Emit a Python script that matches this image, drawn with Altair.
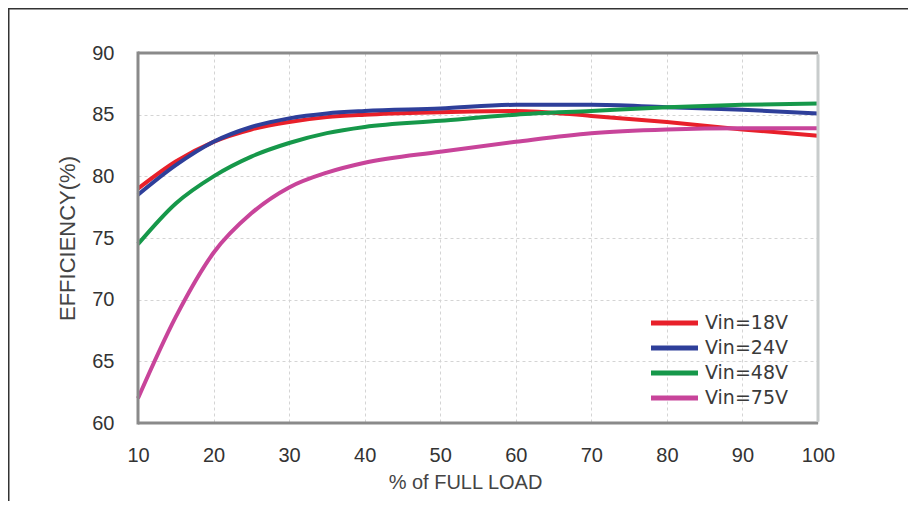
import altair as alt
import pandas as pd

load = [10, 15, 20, 25, 30, 35, 40, 50, 60, 70, 80, 90, 100]
series_names = ["Vin=18V", "Vin=24V", "Vin=48V", "Vin=75V"]
colors = ["#e8202a", "#2e3f9a", "#16984a", "#c8449a"]
eff_18 = [79.0, 81.2, 82.8, 83.8, 84.4, 84.8, 85.0, 85.2, 85.3, 84.9, 84.4, 83.8, 83.3]
eff_24 = [78.5, 80.9, 82.8, 84.0, 84.7, 85.1, 85.3, 85.5, 85.8, 85.8, 85.6, 85.4, 85.1]
eff_48 = [74.5, 77.8, 80.0, 81.6, 82.7, 83.5, 84.0, 84.5, 85.0, 85.3, 85.6, 85.8, 85.9]
eff_75 = [62.0, 68.6, 73.8, 77.0, 79.1, 80.3, 81.1, 82.0, 82.8, 83.5, 83.8, 83.9, 83.9]
x_ticks = [10, 20, 30, 40, 50, 60, 70, 80, 90, 100]
y_ticks = [60, 65, 70, 75, 80, 85, 90]

rows = []
for name, vals in zip(series_names, [eff_18, eff_24, eff_48, eff_75]):
    for x, v in zip(load, vals):
        rows.append({"load": x, "eff": v, "series": name})
df = pd.DataFrame(rows)
order_map = {"Vin=75V": 0, "Vin=48V": 1, "Vin=18V": 2, "Vin=24V": 3}
df["z"] = df["series"].map(order_map)

W, H = 680, 370
PL, PT = 130, 45
FONT = "Liberation Sans"

color_scale = alt.Scale(domain=series_names, range=colors)

lines = alt.Chart(df).mark_line(strokeWidth=4, interpolate="monotone").encode(
    x=alt.X("load:Q", scale=alt.Scale(domain=[10, 100], nice=False),
            axis=alt.Axis(values=x_ticks, title="% of FULL LOAD", grid=True,
                          gridDash=[3, 3], gridColor="#d4d4d4", domain=False,
                          ticks=False, labelPadding=22, labelFontSize=20,
                          labelFlush=False,
                          labelColor="#333333", titleFontSize=20,
                          titleColor="#444444", titleFontWeight="normal",
                          titleX=327, titleY=59, titleBaseline="middle",
                          titleAlign="center",
                          labelFont=FONT, titleFont=FONT)),
    y=alt.Y("eff:Q", scale=alt.Scale(domain=[60, 90], nice=False),
            axis=alt.Axis(values=y_ticks, title="EFFICIENCY(%)", grid=True,
                          gridDash=[3, 3], gridColor="#d4d4d4", domain=False,
                          ticks=False, labelPadding=24, labelFontSize=20,
                          labelColor="#333333", titleFontSize=22,
                          titleColor="#444444", titleFontWeight="normal",
                          titleX=-71, titleY=H / 2, titleAngle=270,
                          titleBaseline="middle", titleAlign="center",
                          labelFont=FONT, titleFont=FONT)),
    color=alt.Color("series:N", scale=color_scale, legend=None),
    order=alt.Order("z:Q"),
)

leg_df = pd.DataFrame({"series": series_names})
leg_y = alt.Y("series:N",
              scale=alt.Scale(domain=series_names, range=[270, 345], type="point", padding=0),
              axis=None)
leg_rules = alt.Chart(leg_df).mark_rule(strokeWidth=5).encode(
    x=alt.value(513), x2=alt.value(560), y=leg_y,
    color=alt.Color("series:N", scale=color_scale, legend=None),
)
leg_text = alt.Chart(leg_df).mark_text(align="left", baseline="middle", fontSize=19,
                                       font="DejaVu Sans", color="#3a3a3a").encode(
    x=alt.value(567), y=leg_y, text="series:N",
)

one = pd.DataFrame({"a": [0]})
border_dark = "#8a8a8a"
b_left = alt.Chart(one).mark_rule(color=border_dark, strokeWidth=3, clip=False).encode(
    x=alt.value(0), y=alt.value(-1.5), y2=alt.value(H + 1.5))
b_top = alt.Chart(one).mark_rule(color=border_dark, strokeWidth=3, clip=False).encode(
    x=alt.value(0), x2=alt.value(W), y=alt.value(0))
b_bottom = alt.Chart(one).mark_rule(color=border_dark, strokeWidth=3, clip=False).encode(
    x=alt.value(0), x2=alt.value(W), y=alt.value(H))
b_right = alt.Chart(one).mark_rule(color="#c8cccc", strokeWidth=3, clip=False).encode(
    x=alt.value(W), y=alt.value(1.5), y2=alt.value(H - 1.5))
frame_top = alt.Chart(one).mark_rule(color="#333333", strokeWidth=1.5, clip=False).encode(
    x=alt.value(-PL), x2=alt.value(W + 100), y=alt.value(-PT + 0.75))
frame_left = alt.Chart(one).mark_rule(color="#333333", strokeWidth=1.5, clip=False).encode(
    x=alt.value(-PL + 0.75), y=alt.value(-PT), y2=alt.value(H + 100))

chart = alt.layer(lines, b_left, b_top, b_bottom, b_right, leg_rules, leg_text,
                  frame_top, frame_left).resolve_scale(
    y="independent"
).properties(
    width=W, height=H,
    autosize=alt.AutoSizeParams(type="none"),
    padding={"left": PL, "top": PT, "right": 90, "bottom": 78},
    background="white",
).configure_view(stroke=None)

chart.save("out.html", embed_options={"renderer": "svg", "actions": False})
